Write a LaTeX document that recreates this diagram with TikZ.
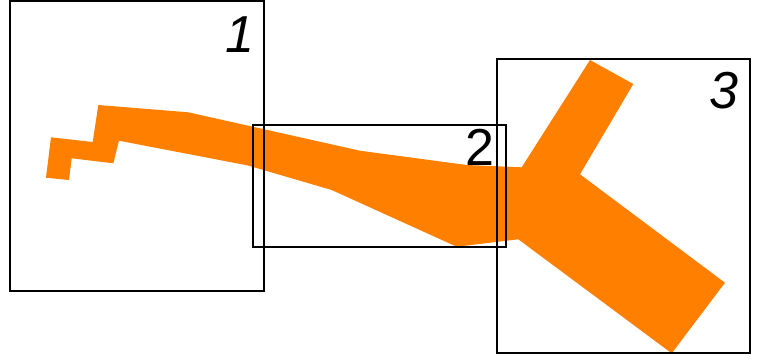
\documentclass[tikz,border=0pt]{standalone}
\usepackage{fontspec}
\setmainfont{Liberation Sans}
\definecolor{flow}{RGB}{255,128,0}
\begin{document}
\begin{tikzpicture}[x=1pt,y=-1pt,
  frame/.style={draw=black,line width=1.8pt},
  num/.style={font=\fontsize{52}{52}\selectfont,inner sep=0pt,anchor=base}]
\useasboundingbox (0,0) rectangle (764,360);
\fill[flow] (98.3,105) -- (188.3,112.3) -- (360,150.7) -- (466.7,165) -- (521.7,167.3)
  -- (590,60) -- (633.3,84) -- (580,174.3) -- (725,282.7) -- (671.7,353.3)
  -- (518.3,239.3) -- (456.7,246.7) -- (331.7,190) -- (248,165.5) -- (119,140.7)
  -- (113.3,163.3) -- (71.7,158.3) -- (69,180) -- (46,177.7) -- (51,137.3)
  -- (92.7,142) -- cycle;
\draw[frame,line width=2.2pt] (10,1) rectangle (264,291);
\draw[frame] (252.7,125.3) rectangle (505.7,247.3);
\draw[frame] (497.3,58.7) rectangle (749.7,353.3);
\node[num] (l1) at (240,52) {\itshape 1};
\node[num] (l2) at (480,165) {2};
\node[num] (l3) at (724,108) {\itshape 3};
\end{tikzpicture}
\end{document}
